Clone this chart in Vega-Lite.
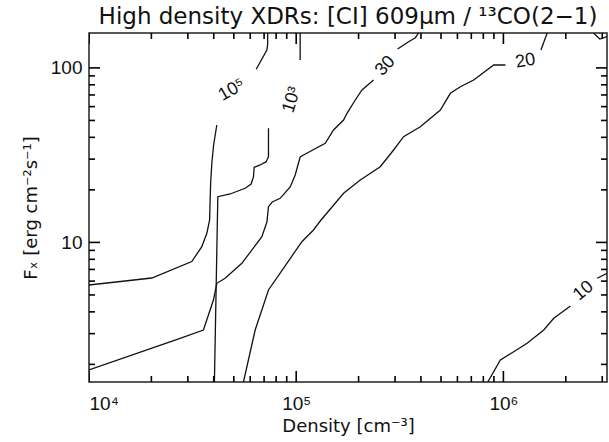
{
  "$schema": "https://vega.github.io/schema/vega-lite/v6.json",
  "width": 518,
  "height": 349,
  "autosize": {"type": "none"},
  "padding": {"left": 89, "top": 33, "right": 2, "bottom": 60},
  "background": "white",
  "title": {"text": "High density XDRs: [CI] 609μm / ¹³CO(2−1)", "font": "DejaVu Sans", "fontSize": 23, "fontWeight": "normal", "color": "#111", "offset": 4},
  "config": {
    "view": {"stroke": "#222", "strokeWidth": 1.5},
    "axis": {"grid": false, "domain": false, "ticks": false, "tickSize": 0, "labelFont": "Liberation Sans", "labelFontSize": 19, "labelColor": "#111", "titleFont": "DejaVu Sans", "titleFontSize": 18, "titleFontWeight": "normal", "titleColor": "#111"}
  },
  "datasets": {
    "lines": [
      {"c": "A1", "level": "1e5", "i": 0, "x": 10000, "y": 5.70},
      {"c": "A1", "level": "1e5", "i": 1, "x": 20090, "y": 6.25},
      {"c": "A1", "level": "1e5", "i": 2, "x": 31340, "y": 7.77},
      {"c": "A1", "level": "1e5", "i": 3, "x": 35030, "y": 9.45},
      {"c": "A1", "level": "1e5", "i": 4, "x": 37040, "y": 11.27},
      {"c": "A1", "level": "1e5", "i": 5, "x": 38210, "y": 13.44},
      {"c": "A1", "level": "1e5", "i": 6, "x": 38420, "y": 17.5},
      {"c": "A1", "level": "1e5", "i": 7, "x": 38640, "y": 21.9},
      {"c": "A1", "level": "1e5", "i": 8, "x": 39160, "y": 28.51},
      {"c": "A1", "level": "1e5", "i": 9, "x": 39940, "y": 36.16},
      {"c": "A1", "level": "1e5", "i": 10, "x": 41390, "y": 47.08},
      {"c": "A2", "level": "1e5", "i": 0, "x": 64100, "y": 98.2},
      {"c": "A2", "level": "1e5", "i": 1, "x": 72210, "y": 126.6},
      {"c": "A2", "level": "1e5", "i": 2, "x": 72840, "y": 137.1},
      {"c": "A2", "level": "1e5", "i": 3, "x": 72840, "y": 158.5},
      {"c": "B1", "level": "1e3", "i": 0, "x": 73490, "y": 45.08},
      {"c": "B1", "level": "1e3", "i": 1, "x": 73490, "y": 30.98},
      {"c": "B1", "level": "1e3", "i": 2, "x": 71640, "y": 29.01},
      {"c": "B1", "level": "1e3", "i": 3, "x": 67000, "y": 27.78},
      {"c": "B1", "level": "1e3", "i": 4, "x": 62690, "y": 26.94},
      {"c": "B1", "level": "1e3", "i": 5, "x": 62200, "y": 23.8},
      {"c": "B1", "level": "1e3", "i": 6, "x": 60610, "y": 21.61},
      {"c": "B1", "level": "1e3", "i": 7, "x": 56710, "y": 20.42},
      {"c": "B1", "level": "1e3", "i": 8, "x": 48000, "y": 18.94},
      {"c": "B1", "level": "1e3", "i": 9, "x": 41850, "y": 18.28},
      {"c": "B1", "level": "1e3", "i": 10, "x": 41060, "y": 5.34},
      {"c": "B1", "level": "1e3", "i": 11, "x": 40300, "y": 1.585},
      {"c": "B2", "level": "1e3", "i": 0, "x": 104500, "y": 158.5},
      {"c": "B2", "level": "1e3", "i": 1, "x": 104500, "y": 111.0},
      {"c": "C1", "level": "30", "i": 0, "x": 10000, "y": 1.857},
      {"c": "C1", "level": "30", "i": 1, "x": 27520, "y": 2.822},
      {"c": "C1", "level": "30", "i": 2, "x": 35660, "y": 3.148},
      {"c": "C1", "level": "30", "i": 3, "x": 39860, "y": 4.676},
      {"c": "C1", "level": "30", "i": 4, "x": 41390, "y": 5.83},
      {"c": "C1", "level": "30", "i": 5, "x": 45390, "y": 6.23},
      {"c": "C1", "level": "30", "i": 6, "x": 54660, "y": 7.59},
      {"c": "C1", "level": "30", "i": 7, "x": 68290, "y": 10.78},
      {"c": "C1", "level": "30", "i": 8, "x": 72210, "y": 13.09},
      {"c": "C1", "level": "30", "i": 9, "x": 73490, "y": 16.02},
      {"c": "C1", "level": "30", "i": 10, "x": 76570, "y": 17.04},
      {"c": "C1", "level": "30", "i": 11, "x": 83680, "y": 17.89},
      {"c": "C1", "level": "30", "i": 12, "x": 93540, "y": 20.78},
      {"c": "C1", "level": "30", "i": 13, "x": 98900, "y": 24.33},
      {"c": "C1", "level": "30", "i": 14, "x": 104500, "y": 30.86},
      {"c": "C1", "level": "30", "i": 15, "x": 108460, "y": 31.69},
      {"c": "C1", "level": "30", "i": 16, "x": 138100, "y": 36.98},
      {"c": "C1", "level": "30", "i": 17, "x": 151400, "y": 44.07},
      {"c": "C1", "level": "30", "i": 18, "x": 169300, "y": 50.28},
      {"c": "C1", "level": "30", "i": 19, "x": 175800, "y": 54.93},
      {"c": "C1", "level": "30", "i": 20, "x": 192800, "y": 65.46},
      {"c": "C1", "level": "30", "i": 21, "x": 207700, "y": 74.7},
      {"c": "C1", "level": "30", "i": 22, "x": 236300, "y": 85.25},
      {"c": "C2", "level": "30", "i": 0, "x": 308600, "y": 128.3},
      {"c": "C2", "level": "30", "i": 1, "x": 348700, "y": 141.3},
      {"c": "C2", "level": "30", "i": 2, "x": 375700, "y": 148.9},
      {"c": "C2", "level": "30", "i": 3, "x": 389700, "y": 158.5},
      {"c": "D1", "level": "20", "i": 0, "x": 55650, "y": 1.585},
      {"c": "D1", "level": "20", "i": 1, "x": 63380, "y": 3.148},
      {"c": "D1", "level": "20", "i": 2, "x": 73490, "y": 5.34},
      {"c": "D1", "level": "20", "i": 3, "x": 106500, "y": 10.09},
      {"c": "D1", "level": "20", "i": 4, "x": 121200, "y": 11.78},
      {"c": "D1", "level": "20", "i": 5, "x": 130600, "y": 13.26},
      {"c": "D1", "level": "20", "i": 6, "x": 169300, "y": 19.11},
      {"c": "D1", "level": "20", "i": 7, "x": 203800, "y": 22.79},
      {"c": "D1", "level": "20", "i": 8, "x": 254500, "y": 27.15},
      {"c": "D1", "level": "20", "i": 9, "x": 295100, "y": 33.85},
      {"c": "D1", "level": "20", "i": 10, "x": 329800, "y": 40.33},
      {"c": "D1", "level": "20", "i": 11, "x": 397200, "y": 46.03},
      {"c": "D1", "level": "20", "i": 12, "x": 496300, "y": 57.38},
      {"c": "D1", "level": "20", "i": 13, "x": 554600, "y": 71.52},
      {"c": "D1", "level": "20", "i": 14, "x": 619800, "y": 78.04},
      {"c": "D1", "level": "20", "i": 15, "x": 718700, "y": 85.25},
      {"c": "D1", "level": "20", "i": 16, "x": 898000, "y": 103.9},
      {"c": "D1", "level": "20", "i": 17, "x": 1022600, "y": 103.9},
      {"c": "D2", "level": "20", "i": 0, "x": 1518000, "y": 126.6},
      {"c": "D2", "level": "20", "i": 1, "x": 1626000, "y": 158.5},
      {"c": "E1", "level": "10", "i": 0, "x": 840200, "y": 1.585},
      {"c": "E1", "level": "10", "i": 1, "x": 967200, "y": 2.119},
      {"c": "E1", "level": "10", "i": 2, "x": 1121500, "y": 2.364},
      {"c": "E1", "level": "10", "i": 3, "x": 1301500, "y": 2.641},
      {"c": "E1", "level": "10", "i": 4, "x": 1565500, "y": 3.148},
      {"c": "E1", "level": "10", "i": 5, "x": 1750000, "y": 3.673},
      {"c": "E1", "level": "10", "i": 6, "x": 2107000, "y": 4.321},
      {"c": "E2", "level": "10", "i": 0, "x": 2836000, "y": 6.229},
      {"c": "E2", "level": "10", "i": 1, "x": 3162000, "y": 6.65},
      {"c": "F1", "level": "corner", "i": 0, "x": 2722000, "y": 158.5},
      {"c": "F1", "level": "corner", "i": 1, "x": 2919000, "y": 146.4},
      {"c": "F1", "level": "corner", "i": 2, "x": 3162000, "y": 151.0}
    ],
    "labels": [
      {"label": "10⁵", "x": 48920, "y": 74.7},
      {"label": "10³", "x": 95330, "y": 65.5},
      {"label": "30", "x": 269200, "y": 102.5},
      {"label": "20", "x": 1277000, "y": 109.5},
      {"label": "10", "x": 2435000, "y": 5.267}
    ],
    "xticks": [
      {"x": 10000, "kind": "major"}, {"x": 100000, "kind": "major"}, {"x": 1000000, "kind": "major"},
      {"x": 20000, "kind": "minor"}, {"x": 30000, "kind": "minor"}, {"x": 40000, "kind": "minor"}, {"x": 50000, "kind": "minor"},
      {"x": 60000, "kind": "minor"}, {"x": 70000, "kind": "minor"}, {"x": 80000, "kind": "minor"}, {"x": 90000, "kind": "minor"},
      {"x": 200000, "kind": "minor"}, {"x": 300000, "kind": "minor"}, {"x": 400000, "kind": "minor"}, {"x": 500000, "kind": "minor"},
      {"x": 600000, "kind": "minor"}, {"x": 700000, "kind": "minor"}, {"x": 800000, "kind": "minor"}, {"x": 900000, "kind": "minor"},
      {"x": 2000000, "kind": "minor"}, {"x": 3000000, "kind": "minor"}
    ],
    "yticks": [
      {"y": 10, "kind": "major"}, {"y": 100, "kind": "major"},
      {"y": 2, "kind": "minor"}, {"y": 3, "kind": "minor"}, {"y": 4, "kind": "minor"}, {"y": 5, "kind": "minor"},
      {"y": 6, "kind": "minor"}, {"y": 7, "kind": "minor"}, {"y": 8, "kind": "minor"}, {"y": 9, "kind": "minor"},
      {"y": 20, "kind": "minor"}, {"y": 30, "kind": "minor"}, {"y": 40, "kind": "minor"}, {"y": 50, "kind": "minor"},
      {"y": 60, "kind": "minor"}, {"y": 70, "kind": "minor"}, {"y": 80, "kind": "minor"}, {"y": 90, "kind": "minor"}
    ]
  },
  "layer": [
    {
      "data": {"name": "lines"},
      "mark": {"type": "line", "stroke": "#111", "strokeWidth": 1.3, "clip": true},
      "encoding": {
        "x": {"field": "x", "type": "quantitative", "scale": {"type": "log", "domain": [10000, 3162278], "nice": false},
          "axis": {"orient": "bottom", "values": [10000, 100000, 1000000], "labelExpr": "datum.value < 50000 ? '10⁴' : datum.value < 500000 ? '10⁵' : '10⁶'", "labelPadding": 12, "title": "Density [cm⁻³]", "titlePadding": 4}},
        "y": {"field": "y", "type": "quantitative", "scale": {"type": "log", "domain": [1.5849, 158.49], "nice": false},
          "axis": {"orient": "left", "values": [10, 100], "labelExpr": "datum.value < 50 ? '10' : '100'", "labelPadding": 7, "title": "Fₓ [erg cm⁻²s⁻¹]", "titlePadding": 10}},
        "detail": {"field": "c"},
        "order": {"field": "i", "type": "quantitative"}
      }
    },
    {
      "data": {"name": "xticks"},
      "transform": [{"filter": "datum.kind == 'major'"}],
      "mark": {"type": "tick", "orient": "vertical", "size": 22, "thickness": 1.6, "color": "#000", "opacity": 1, "clip": true},
      "encoding": {
        "x": {"field": "x", "type": "quantitative", "scale": {"type": "log", "domain": [10000, 3162278], "nice": false}},
        "y": {"datum": 1.5849, "type": "quantitative", "scale": {"type": "log", "domain": [1.5849, 158.49], "nice": false}}
      }
    },
    {
      "data": {"name": "xticks"},
      "transform": [{"filter": "datum.kind == 'major'"}],
      "mark": {"type": "tick", "orient": "vertical", "size": 22, "thickness": 1.6, "color": "#000", "opacity": 1, "clip": true},
      "encoding": {
        "x": {"field": "x", "type": "quantitative", "scale": {"type": "log", "domain": [10000, 3162278], "nice": false}},
        "y": {"datum": 158.49, "type": "quantitative", "scale": {"type": "log", "domain": [1.5849, 158.49], "nice": false}}
      }
    },
    {
      "data": {"name": "xticks"},
      "transform": [{"filter": "datum.kind == 'minor'"}],
      "mark": {"type": "tick", "orient": "vertical", "size": 12, "thickness": 1.6, "color": "#000", "opacity": 1, "clip": true},
      "encoding": {
        "x": {"field": "x", "type": "quantitative", "scale": {"type": "log", "domain": [10000, 3162278], "nice": false}},
        "y": {"datum": 1.5849, "type": "quantitative", "scale": {"type": "log", "domain": [1.5849, 158.49], "nice": false}}
      }
    },
    {
      "data": {"name": "xticks"},
      "transform": [{"filter": "datum.kind == 'minor'"}],
      "mark": {"type": "tick", "orient": "vertical", "size": 12, "thickness": 1.6, "color": "#000", "opacity": 1, "clip": true},
      "encoding": {
        "x": {"field": "x", "type": "quantitative", "scale": {"type": "log", "domain": [10000, 3162278], "nice": false}},
        "y": {"datum": 158.49, "type": "quantitative", "scale": {"type": "log", "domain": [1.5849, 158.49], "nice": false}}
      }
    },
    {
      "data": {"name": "yticks"},
      "transform": [{"filter": "datum.kind == 'major'"}],
      "mark": {"type": "tick", "orient": "horizontal", "size": 22, "thickness": 1.6, "color": "#000", "opacity": 1, "clip": true},
      "encoding": {
        "y": {"field": "y", "type": "quantitative", "scale": {"type": "log", "domain": [1.5849, 158.49], "nice": false}},
        "x": {"datum": 10000, "type": "quantitative", "scale": {"type": "log", "domain": [10000, 3162278], "nice": false}}
      }
    },
    {
      "data": {"name": "yticks"},
      "transform": [{"filter": "datum.kind == 'major'"}],
      "mark": {"type": "tick", "orient": "horizontal", "size": 22, "thickness": 1.6, "color": "#000", "opacity": 1, "clip": true},
      "encoding": {
        "y": {"field": "y", "type": "quantitative", "scale": {"type": "log", "domain": [1.5849, 158.49], "nice": false}},
        "x": {"datum": 3162278, "type": "quantitative", "scale": {"type": "log", "domain": [10000, 3162278], "nice": false}}
      }
    },
    {
      "data": {"name": "yticks"},
      "transform": [{"filter": "datum.kind == 'minor'"}],
      "mark": {"type": "tick", "orient": "horizontal", "size": 12, "thickness": 1.6, "color": "#000", "opacity": 1, "clip": true},
      "encoding": {
        "y": {"field": "y", "type": "quantitative", "scale": {"type": "log", "domain": [1.5849, 158.49], "nice": false}},
        "x": {"datum": 10000, "type": "quantitative", "scale": {"type": "log", "domain": [10000, 3162278], "nice": false}}
      }
    },
    {
      "data": {"name": "yticks"},
      "transform": [{"filter": "datum.kind == 'minor'"}],
      "mark": {"type": "tick", "orient": "horizontal", "size": 12, "thickness": 1.6, "color": "#000", "opacity": 1, "clip": true},
      "encoding": {
        "y": {"field": "y", "type": "quantitative", "scale": {"type": "log", "domain": [1.5849, 158.49], "nice": false}},
        "x": {"datum": 3162278, "type": "quantitative", "scale": {"type": "log", "domain": [10000, 3162278], "nice": false}}
      }
    },
    {
      "data": {"name": "labels"},
      "transform": [{"filter": "datum.label == '10⁵'"}],
      "mark": {"type": "text", "font": "Liberation Sans", "fontSize": 18, "fill": "#111", "angle": 330},
      "encoding": {
        "x": {"field": "x", "type": "quantitative", "scale": {"type": "log", "domain": [10000, 3162278], "nice": false}},
        "y": {"field": "y", "type": "quantitative", "scale": {"type": "log", "domain": [1.5849, 158.49], "nice": false}},
        "text": {"field": "label"}
      }
    },
    {
      "data": {"name": "labels"},
      "transform": [{"filter": "datum.label == '10³'"}],
      "mark": {"type": "text", "font": "Liberation Sans", "fontSize": 18, "fill": "#111", "angle": 287},
      "encoding": {
        "x": {"field": "x", "type": "quantitative", "scale": {"type": "log", "domain": [10000, 3162278], "nice": false}},
        "y": {"field": "y", "type": "quantitative", "scale": {"type": "log", "domain": [1.5849, 158.49], "nice": false}},
        "text": {"field": "label"}
      }
    },
    {
      "data": {"name": "labels"},
      "transform": [{"filter": "datum.label == '30'"}],
      "mark": {"type": "text", "font": "Liberation Sans", "fontSize": 18, "fill": "#111", "angle": 313},
      "encoding": {
        "x": {"field": "x", "type": "quantitative", "scale": {"type": "log", "domain": [10000, 3162278], "nice": false}},
        "y": {"field": "y", "type": "quantitative", "scale": {"type": "log", "domain": [1.5849, 158.49], "nice": false}},
        "text": {"field": "label"}
      }
    },
    {
      "data": {"name": "labels"},
      "transform": [{"filter": "datum.label == '20'"}],
      "mark": {"type": "text", "font": "Liberation Sans", "fontSize": 18, "fill": "#111", "angle": 350},
      "encoding": {
        "x": {"field": "x", "type": "quantitative", "scale": {"type": "log", "domain": [10000, 3162278], "nice": false}},
        "y": {"field": "y", "type": "quantitative", "scale": {"type": "log", "domain": [1.5849, 158.49], "nice": false}},
        "text": {"field": "label"}
      }
    },
    {
      "data": {"name": "labels"},
      "transform": [{"filter": "datum.label == '10'"}],
      "mark": {"type": "text", "font": "Liberation Sans", "fontSize": 18, "fill": "#111", "angle": 320},
      "encoding": {
        "x": {"field": "x", "type": "quantitative", "scale": {"type": "log", "domain": [10000, 3162278], "nice": false}},
        "y": {"field": "y", "type": "quantitative", "scale": {"type": "log", "domain": [1.5849, 158.49], "nice": false}},
        "text": {"field": "label"}
      }
    }
  ]
}
